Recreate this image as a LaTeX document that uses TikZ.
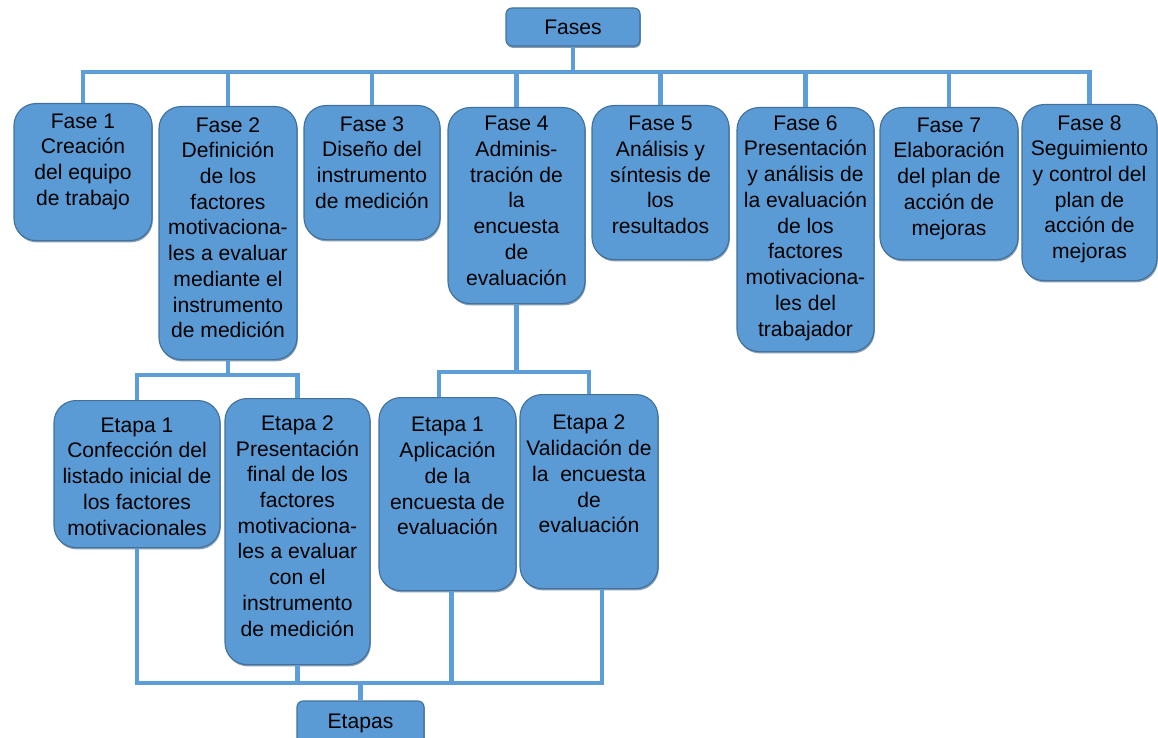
\documentclass[tikz,border=0pt]{standalone}
\usepackage{fontspec}
\setmainfont{Liberation Sans}
\usetikzlibrary{positioning,shadows}
\definecolor{boxBlue}{RGB}{91,155,213}
\definecolor{edgeBlue}{RGB}{65,113,156}
\definecolor{lineBlue}{RGB}{93,157,216}

\tikzset{
  phasebox/.style={draw=edgeBlue, fill=boxBlue, line width=0.8pt, rounded corners=0.55cm,
    minimum width=3.4cm, anchor=north, inner sep=0pt,
    drop shadow={shadow xshift=0.6pt, shadow yshift=-1.3pt, opacity=0.6, fill=edgeBlue!80!black}},
  boxtext/.style={align=center, font=\fontsize{15}{18.3}\selectfont},
  link/.style={draw=lineBlue, line width=3pt}
}

\begin{document}
\begin{tikzpicture}
\useasboundingbox (0,0) rectangle (28.95,-18.45);

% top
\node[phasebox, rounded corners=0.15cm, anchor=center, minimum width=3.35cm, minimum height=0.95cm, font=\fontsize{15}{18.3}\selectfont] (fases) at (14.325,-0.675) {Fases};

% phases
\node[phasebox, minimum width=3.45cm, minimum height=3.425cm] (f1) at (2.075,-2.575) {};
\node[boxtext, below=4pt of f1.north] (f1t) {Fase 1\\Creación\\del equipo\\de trabajo};
\node[phasebox, minimum width=3.45cm, minimum height=6.325cm] (f2) at (5.7,-2.65) {};
\node[boxtext, below=4.5pt of f2.north] (f2t) {Fase 2\\Definición\\de los\\factores\\motivaciona-\\les a evaluar\\mediante el\\instrumento\\de medición};
\node[phasebox, minimum height=3.35cm] (f3) at (9.3,-2.625) {};
\node[boxtext, below=4.5pt of f3.north] (f3t) {Fase 3\\Diseño del\\instrumento\\de medición};
\node[phasebox, minimum width=3.425cm, minimum height=4.9cm] (f4) at (12.9125,-2.675) {};
\node[boxtext, below=3pt of f4.north] (f4t) {Fase 4\\Adminis-\\tración de\\la\\encuesta\\de\\evaluación};
\node[phasebox, minimum width=3.425cm, minimum height=3.85cm] (f5) at (16.5125,-2.625) {};
\node[boxtext, below=4.5pt of f5.north] (f5t) {Fase 5\\Análisis y\\síntesis de\\los\\resultados};
\node[phasebox, minimum width=3.425cm, minimum height=6.1cm] (f6) at (20.1375,-2.675) {};
\node[boxtext, below=2.5pt of f6.north] (f6t) {Fase 6\\Presentación\\y análisis de\\la evaluación\\de los\\factores\\motivaciona-\\les del\\trabajador};
\node[phasebox, minimum width=3.45cm, minimum height=3.8cm] (f7) at (23.725,-2.675) {};
\node[boxtext, below=4pt of f7.north] (f7t) {Fase 7\\Elaboración\\del plan de\\acción de\\mejoras};
\node[phasebox, minimum width=3.375cm, minimum height=4.4cm] (f8) at (27.2375,-2.6) {};
\node[boxtext, below=4.5pt of f8.north] (f8t) {Fase 8\\Seguimiento\\y control del\\plan de\\acción de\\mejoras};

% stages
\node[phasebox, minimum width=4.15cm, minimum height=3.675cm] (e21) at (3.425,-10.0) {};
\node[boxtext, below=9pt of e21.north] (e21t) {Etapa 1\\Confección del\\listado inicial de\\los factores\\motivacionales};
\node[phasebox, minimum width=3.625cm, minimum height=6.65cm] (e22) at (7.4375,-9.95) {};
\node[boxtext, below=9pt of e22.north] (e22t) {Etapa 2\\Presentación\\final de los\\factores\\motivaciona-\\les a evaluar\\con el\\instrumento\\de medición};
\node[phasebox, minimum width=3.425cm, minimum height=4.825cm] (e41) at (11.1875,-9.925) {};
\node[boxtext, below=11pt of e41.north] (e41t) {Etapa 1\\Aplicación\\de la\\encuesta de\\evaluación};
\node[phasebox, minimum width=3.45cm, minimum height=4.85cm] (e42) at (14.725,-9.85) {};
\node[boxtext, below=11.5pt of e42.north] (e42t) {Etapa 2\\Validación de\\la \ encuesta\\de\\evaluación};

\node[phasebox, rounded corners=0.15cm, anchor=center, minimum width=3.175cm, minimum height=1.1cm, font=\fontsize{15}{18.3}\selectfont] (etapas) at (9.0125,-18.075) {Etapas};

% connectors
\coordinate (bus) at (0,-1.8);
\draw[link] (fases.south) -- (fases.south |- bus);
\draw[link] (f1.north) -- (f1.north |- bus) -- (f8.north |- bus) -- (f8.north);
\foreach \n in {2,...,7}
  \draw[link] (f\n.north) -- (f\n.north |- bus);

\coordinate (lbar) at (0,-9.375);
\draw[link] (f2.south) -- (f2.south |- lbar);
\draw[link] (e21.north) -- (e21.north |- lbar) -- (e22.north |- lbar) -- (e22.north);

\coordinate (rbar) at (0,-9.3);
\draw[link] (f4.south) -- (f4.south |- rbar);
\draw[link] ([xshift=-0.22cm]e41.north) -- ([xshift=-0.22cm]e41.north |- rbar) -- (e42.north |- rbar) -- (e42.north);

\coordinate (bbar) at (0,-17.075);
\draw[link] (e21.south) -- (e21.south |- bbar) -- ([xshift=0.32cm]e42.south |- bbar) -- ([xshift=0.32cm]e42.south);
\draw[link] (e22.south) -- (e22.south |- bbar);
\draw[link] ([xshift=0.1cm]e41.south) -- ([xshift=0.1cm]e41.south |- bbar);
\draw[link] (etapas.north) -- (etapas.north |- bbar);
\end{tikzpicture}
\end{document}
